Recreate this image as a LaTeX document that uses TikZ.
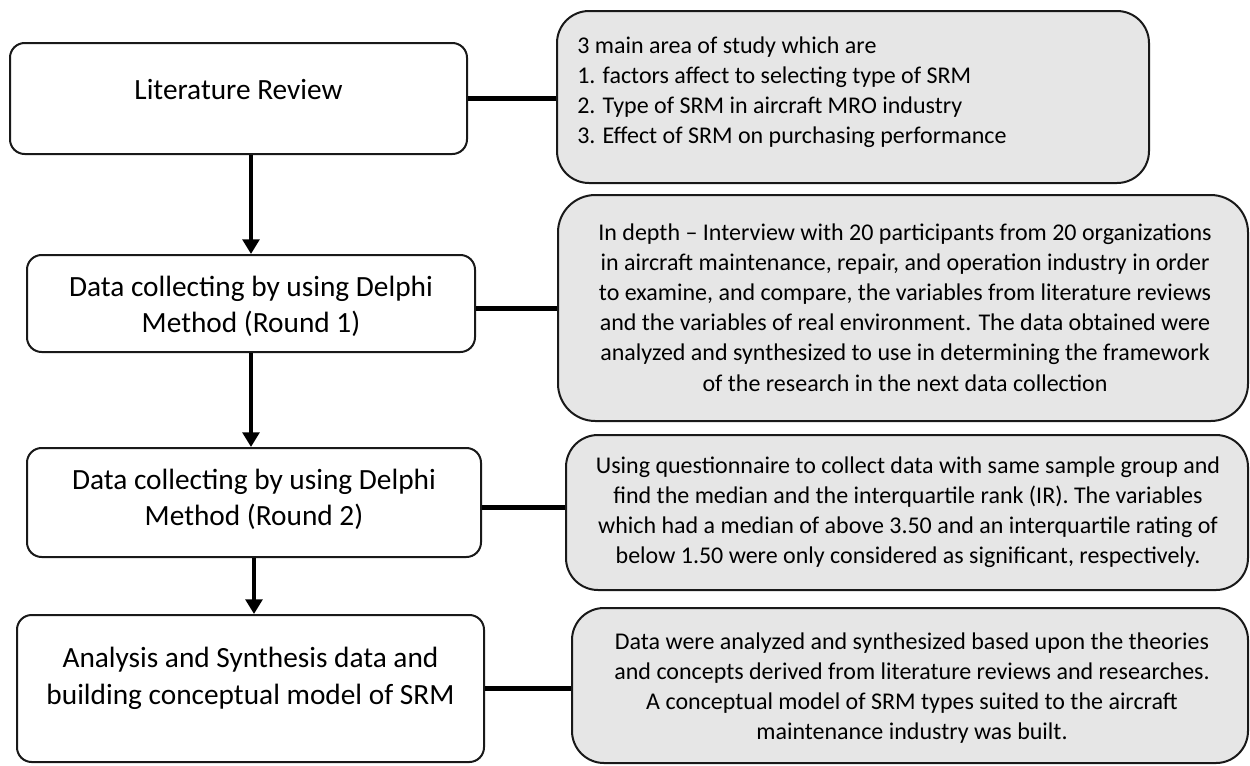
\documentclass[tikz,border=0pt]{standalone}
\usepackage{fontspec}
\setmainfont{Carlito}
\usetikzlibrary{arrows.meta}
\definecolor{panelgray}{RGB}{230,230,230}
\definecolor{edge}{RGB}{25,25,25}
\tikzset{
  stepbox/.style={draw=edge, line width=1.5pt, fill=white, rounded corners=11pt, inner sep=0pt},
  notebox/.style={draw=edge, line width=1.5pt, fill=panelgray, rounded corners=24pt, inner sep=0pt},
  steptext/.style={align=center, inner sep=0pt, font=\fontsize{22}{27.3}\selectfont},
  notetext/.style={align=center, inner sep=0pt, font=\fontsize{18}{22.6}\selectfont},
  flow/.style={line width=3.5pt, draw=black, -{Triangle[width=12.5pt,length=11pt]}},
  link/.style={line width=3.75pt, draw=black},
}
\begin{document}
\begin{tikzpicture}[x=0.75pt, y=-0.75pt]
\useasboundingbox (0,0) rectangle (1250,765);

% left column: process steps
\node[stepbox, minimum width=342.75pt, minimum height=83.25pt] (lit) at (238.5,98.5) {};
\node[stepbox, minimum width=336pt, minimum height=72.75pt] (dc1) at (251,303.5) {};
\node[stepbox, minimum width=340.5pt, minimum height=81.75pt] (dc2) at (254,502.5) {};
\node[stepbox, minimum width=350.25pt, minimum height=110.25pt] (an) at (250.5,688.5) {};

\node[steptext] (litT) at (238.5,90) {Literature Review};
\node[steptext] (dc1T) at (251,306.5) {Data collecting by using Delphi\\Method (Round 1)};
\node[steptext] (dc2T) at (254,499.5) {Data collecting by using Delphi\\Method (Round 2)};
\node[steptext] (anT) at (250.5,678.5) {Analysis and Synthesis data and\\building conceptual model of SRM};

% right column: descriptions
\node[notebox, minimum width=444pt, minimum height=129pt] (nA) at (853,97) {};
\node[notebox, rounded corners=28pt, minimum width=517.5pt, minimum height=169.5pt] (nB) at (903,308) {};
\node[notebox, minimum width=511.5pt, minimum height=116.25pt] (nC) at (907,512.5) {};
\node[notebox, minimum width=507pt, minimum height=116.25pt] (nD) at (910,685.5) {};

\node[notetext, align=left, anchor=west] (nAT) at (577,92) {3 main area of study which are\\1. factors affect to selecting type of SRM\\2. Type of SRM in aircraft MRO industry\\3. Effect of SRM on purchasing performance};
\node[notetext] (nBT) at (905,307.5) {In depth – Interview with 20 participants from 20 organizations\\in aircraft maintenance, repair, and operation industry in order\\to examine, and compare, the variables from literature reviews\\and the variables of real environment. The data obtained were\\analyzed and synthesized to use in determining the framework\\of the research in the next data collection};
\node[notetext] (nCT) at (908,512) {Using questionnaire to collect data with same sample group and\\find the median and the interquartile rank (IR). The variables\\which had a median of above 3.50 and an interquartile rating of\\below 1.50 were only considered as significant, respectively.};
\node[notetext] (nDT) at (912,688) {Data were analyzed and synthesized based upon the theories\\and concepts derived from literature reviews and researches.\\A conceptual model of SRM types suited to the aircraft\\maintenance industry was built.};

% flow arrows
\draw[flow] (lit.south -| dc1.north) -- (dc1.north);
\draw[flow] (dc1.south) -- (dc1.south |- dc2.north);
\draw[flow] (dc2.south) -- (dc2.south |- an.north);

% links to descriptions
\draw[link] (lit.east) -- (lit.east -| nA.west);
\draw[link] (nB.west -| dc1.east) -- (nB.west);
\draw[link] ([yshift=-3.4pt]dc2.east) -- ([yshift=-3.4pt]dc2.east -| nC.west);
\draw[link] (an.east) -- (an.east -| nD.west);
\end{tikzpicture}
\end{document}
